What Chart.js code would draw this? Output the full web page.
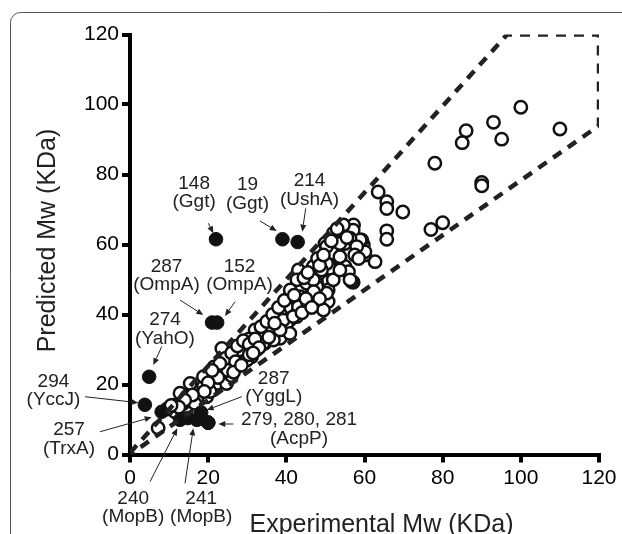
<!DOCTYPE html>
<html><head><meta charset="utf-8">
<script src="https://cdn.jsdelivr.net/npm/chart.js@4/dist/chart.umd.min.js"></script>
<style>html,body{margin:0;padding:0;background:#fff;overflow:hidden}canvas{display:block}</style>
</head><body>
<canvas id="c" width="622" height="534"></canvas>
<script>
// ---------- data ----------
const xTicks = [0, 20, 40, 60, 80, 100, 120];
const yTicks = [0, 20, 40, 60, 80, 100, 120];
const xTitle = 'Experimental Mw (KDa)';
const yTitle = 'Predicted Mw (KDa)';

// open circles: experimental (x) vs predicted (y) Mw
const openX = [100,93,95.1,86,85,110,78,90,90,77,80,63.5,65.7,65.7,69.8,65.7,65.7,62.7,57.1,60.1,
  57.2,54.6,52,55,59.7,60.1,59.3,53.7,56.7,49.9,52,55,55.9,51.2,46.9,43.1,50.7,50.7,50.7,49.5,
  47.8,43.5,43.5,46.9,43.9,40.1,39.2,40.9,38.4,53.7,57.1,54.6,58.9,56.3,50.3,53.7,50.3,50.3,47.8,43.5,
  42.7,40.9,43.1,38.4,40.1,37.5,35.8,33.3,34.5,32.4,29.9,31.1,28.1,27.3,25.2,23.5,23.9,21.3,22.2,18.8,
  17.9,38.4,40.9,42.7,36.7,32,39.2,34.1,29.9,28.1,26.4,24.7,19.6,17.1,13.6,11.5,18.8,15.4,12.8,16.6,
  7.2,38.4,41.8,45.2,46.9,52,49,53.7,56.3,58,11.1,45.5,44,48,30.5,26,20.5,14.5,9.5,21.5,
  24.5,26,27.5,29,30.5,32,33.5,35,36.5,37,38,39.5,41,42,44.5,45.5,48.5,49.5,51.5,53,
  55.5,57.5,58.5,47,45,48.5,46.5,35.5,33,30.5,27,25,22.5,20,19,16,14,12.5,10.5,23,
  21,26.5,28.5,31.5];
const openY = [99.2,94.9,90.1,92.5,89.1,93,83.2,77.7,76.8,64.3,66.2,75,72.2,70.3,69.3,63.9,61.5,55.1,49.2,57,
  65.6,63.7,63.2,60.3,59.9,57.9,61.3,56.1,49.4,60.3,57.5,53.7,52.2,53.2,53.7,52.7,49.4,47,43.7,41.3,
  48.9,49.4,47,45.1,42.2,42.2,36.1,38.4,39.9,60.3,64.1,65.6,61.3,49.9,54.6,56.5,59.4,46.1,47.9,45.1,
  49.9,45.1,42.2,40.3,37.5,35.6,36.5,34.6,31.8,29.9,30.8,27.9,27.9,25.1,25.6,30.3,23.2,22.2,20.3,19.4,
  16.5,33.2,34.6,39.4,32.7,35.6,38.4,31.8,27,29.9,25.1,20.3,16.5,15.6,14.6,12.2,22.2,20.3,17.5,14.6,
  7.6,35.6,39.4,48.9,49.9,49.9,52.7,52.7,61.8,59.4,14.1,43,40.5,56,33,22.5,18,16.5,13,25,
  27.5,29,31,32.5,31.5,33,36.5,38,40,37.5,42,44,47,45.5,50.5,52,54,57,61,64.5,
  62,57,56,46.5,44.5,44.5,42,33.5,30.5,28.5,26.5,24,22,20.5,18,17,15.5,13.5,14,26,
  24,23.5,25.5,29];

// filled circles: annotated outliers
const filledX = [22, 39, 42.9, 21.0, 22.3, 4.9, 3.8, 8.1, 12.8, 14.8, 17.1, 18.2, 20, 20, 20];
const filledY = [61.5, 61.5, 60.7, 37.7, 37.7, 22.2, 14.2, 12.2, 9.9, 10.4, 9.9, 12, 9.1, 9.1, 9.1];

// dashed boundary polygon
const boundaryX = [0, 96.5, 120, 120, 0];
const boundaryY = [0.5, 120, 120, 94, 0];

// annotation texts (label lines)
const labelTexts = [
  ['148', '(Ggt)'], ['19', '(Ggt)'], ['214', '(UshA)'],
  ['287', '(OmpA)'], ['152', '(OmpA)'], ['274', '(YahO)'],
  ['294', '(YccJ)'], ['257', '(TrxA)'], ['240', '(MopB)'],
  ['241', '(MopB)'], ['287', '(YggL)'], ['279, 280, 281', '(AcpP)']
];

// ---------- annotation layout (data units: text centre, arrow start, arrow end) ----------
const annotationLayout = [
  {tx: 16.4, ty: 77.4, a: [20.04, 66.06, 21.31, 63.2]},
  {tx: 30.07, ty: 77.0, a: [33.27, 66.71, 37.54, 63.86]},
  {tx: 45.93, ty: 78.14, a: [44.96, 70.34, 44.09, 63.66]},
  {tx: 9.34, ty: 53.66, a: [12.79, 44.14, 18.76, 39.86]},
  {tx: 28.02, ty: 53.66, a: [26.87, 43.66, 24.31, 39.57]},
  {tx: 8.96, ty: 38.43, a: [8.11, 30.8, 5.96, 25.57]},
  {tx: -19.58, ty: 20.8, a: [-11.51, 16.51, 2.12, 14.8]},
  {tx: -15.61, ty: 7.0, a: [-7.68, 6.51, 5.55, 10.63]},
  {tx: 0.82, ty: -12.51, a: [5.12, -7.77, 12.1, 7.49]},
  {tx: 18.22, ty: -12.51, a: [14.07, -8.23, 16.2, 7.49]},
  {tx: 36.77, ty: 21.77, a: [28.58, 16.51, 19.63, 12.71]},
  {tx: 43.24, ty: 9.86, a: [26.43, 8.71, 22.6, 8.71]}
];

const FONT = '"Liberation Sans", Arial, Helvetica, sans-serif';

const framePlugin = {
  id: 'frame',
  beforeDraw(chart) {
    const ctx = chart.ctx;
    ctx.save();
    ctx.strokeStyle = '#555';
    ctx.lineWidth = 1;
    ctx.beginPath();
    ctx.moveTo(10.5, chart.height + 2);
    ctx.lineTo(10.5, 22.5);
    ctx.arcTo(10.5, 12.5, 20.5, 12.5, 10);
    ctx.lineTo(chart.width + 2, 12.5);
    ctx.stroke();
    ctx.restore();
    // shift axis titles slightly, as in the reference
    const sx = chart.scales.x, sy = chart.scales.y;
    if (!sx._wrapped) {
      const o = sx.drawTitle;
      sx.drawTitle = function () { const c = this.ctx; c.save(); c.translate(17, 0); o.call(this); c.restore(); };
      sx._wrapped = true;
    }
    if (!sy._wrapped) {
      const o = sy.drawTitle;
      sy.drawTitle = function () { const c = this.ctx; c.save(); c.translate(0, -4); o.call(this); c.restore(); };
      sy._wrapped = true;
    }
  }
};

const labelPlugin = {
  id: 'labels',
  afterDraw(chart) {
    const ctx = chart.ctx, sx = chart.scales.x, sy = chart.scales.y;
    ctx.save();
    ctx.fillStyle = '#222';
    ctx.strokeStyle = '#222';
    ctx.font = '19px ' + FONT;
    ctx.textAlign = 'center';
    ctx.textBaseline = 'middle';
    const lh = 18.4;
    labelTexts.forEach((lines, i) => {
      const L = annotationLayout[i];
      const px = sx.getPixelForValue(L.tx), py = sy.getPixelForValue(L.ty);
      lines.forEach((t, k) => ctx.fillText(t, px, py + k * lh));
      const x1 = sx.getPixelForValue(L.a[0]), y1 = sy.getPixelForValue(L.a[1]);
      const x2 = sx.getPixelForValue(L.a[2]), y2 = sy.getPixelForValue(L.a[3]);
      const ang = Math.atan2(y2 - y1, x2 - x1);
      const hl = 7, hw = 3;
      const bx = x2 - hl * Math.cos(ang), by = y2 - hl * Math.sin(ang);
      ctx.lineWidth = 1;
      ctx.beginPath(); ctx.moveTo(x1, y1); ctx.lineTo(bx, by); ctx.stroke();
      ctx.beginPath();
      ctx.moveTo(x2, y2);
      ctx.lineTo(bx - hw * Math.sin(ang), by + hw * Math.cos(ang));
      ctx.lineTo(bx + hw * Math.sin(ang), by - hw * Math.cos(ang));
      ctx.closePath(); ctx.fill();
    });
    ctx.restore();
  }
};

const axisCommon = (ticksArr, fixSize) => ({
  type: 'linear', min: 0, max: 120,
  afterBuildTicks: s => { s.ticks = ticksArr.map(v => ({value: v})); },
  afterFit: fixSize,
  border: {display: true, color: '#000', width: 4},
  grid: {display: true, drawOnChartArea: false, drawTicks: true, tickLength: 8, lineWidth: 4, color: '#000'},
  ticks: {color: '#000', font: {family: FONT, size: 21}, padding: 3, autoSkip: false, maxRotation: 0}
});

const xAxis = axisCommon(xTicks, s => { s.height = 79.5; });
xAxis.title = {display: true, text: xTitle, color: '#222', font: {family: FONT, size: 25}, padding: {top: 0, bottom: -6}};
const yAxis = axisCommon(yTicks, s => { s.width = 130; });
yAxis.title = {display: true, text: yTitle, color: '#222', font: {family: FONT, size: 25}, padding: {top: 33, bottom: 0}};

new Chart(document.getElementById('c'), {
  type: 'scatter',
  data: {
    datasets: [
      {
        label: 'boundary', type: 'line', order: 0,
        data: boundaryX.map((x, i) => ({x, y: boundaryY[i]})),
        borderColor: '#222', borderWidth: 4.5, borderDash: [10, 8],
        pointRadius: 0, fill: false, tension: 0, borderJoinStyle: 'miter', borderCapStyle: 'butt'
      },
      {
        label: 'annotated', order: 1,
        data: filledX.map((x, i) => ({x, y: filledY[i]})),
        backgroundColor: '#111', borderColor: '#111', borderWidth: 1, pointRadius: 6.8
      },
      {
        label: 'proteins', order: 2,
        data: openX.map((x, i) => ({x, y: openY[i]})),
        backgroundColor: '#fff', borderColor: '#111', borderWidth: 2.5, pointRadius: 6.2
      }
    ]
  },
  options: {
    responsive: false, animation: false, devicePixelRatio: 1,
    layout: {padding: {top: 34.5, right: 23, left: 0, bottom: 0}},
    plugins: {legend: {display: false}, tooltip: {enabled: false}},
    scales: {x: xAxis, y: yAxis}
  },
  plugins: [framePlugin, labelPlugin]
});
</script>
</body></html>
